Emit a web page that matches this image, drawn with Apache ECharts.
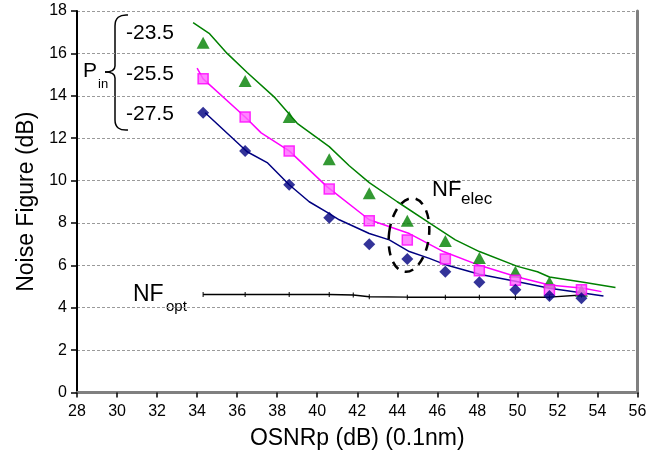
<!DOCTYPE html>
<html>
<head>
<meta charset="utf-8">
<script src="https://cdn.jsdelivr.net/npm/echarts@6/dist/echarts.min.js"></script>
<style>
html,body{margin:0;padding:0;background:#fff;}
#chart{width:669px;height:457px;}
</style>
</head>
<body>
<div id="chart"></div>
<script>
// ---- Data ----
const xTicks = [28, 30, 32, 34, 36, 38, 40, 42, 44, 46, 48, 50, 52, 54, 56];
const yTicks = [0, 2, 4, 6, 8, 10, 12, 14, 16, 18];

// Measured OSNRp positions of markers
const osnrMeas = [34.3, 36.4, 38.6, 40.6, 42.6, 44.5, 46.4, 48.1, 49.9, 51.6, 53.2];
const nfMeasM235 = [16.5, 14.7, 13.0, 11.0, 9.4, 8.1, 7.15, 6.35, 5.7, 5.2, 4.8];
const nfMeasM255 = [14.8, 13.0, 11.4, 9.6, 8.1, 7.2, 6.3, 5.75, 5.3, 4.85, 4.85];
const nfMeasM275 = [13.2, 11.4, 9.8, 8.25, 7.0, 6.3, 5.7, 5.2, 4.85, 4.55, 4.45];

// Simulated curves
const simXM235 = [33.8, 34.6, 35.5, 36.5, 37.9, 39.0, 40.6, 41.6, 42.6, 44.0, 45.6, 46.9, 48.1, 50.0, 51.0, 51.6, 53.3, 54.9];
const simYM235 = [17.45, 16.95, 16.0, 15.1, 13.9, 12.7, 11.6, 10.7, 9.9, 9.0, 8.0, 7.2, 6.65, 5.95, 5.7, 5.45, 5.2, 4.95];
const simXM255 = [34.0, 34.3, 36.4, 37.2, 38.6, 40.5, 42.6, 44.6, 46.3, 48.1, 50.0, 51.6, 53.3, 54.2];
const simYM255 = [15.3, 14.8, 13.0, 12.25, 11.4, 9.7, 8.15, 7.5, 6.65, 6.0, 5.45, 5.07, 4.92, 4.76];
const simXM275 = [34.4, 36.5, 37.5, 38.6, 39.6, 40.5, 41.1, 42.6, 43.6, 44.6, 45.6, 46.5, 48.1, 49.9, 51.6, 53.1, 54.3];
const simYM275 = [13.2, 11.36, 10.85, 9.8, 9.0, 8.5, 8.15, 7.5, 7.2, 6.65, 6.33, 6.0, 5.58, 5.25, 4.92, 4.72, 4.55];

// Optical noise figure
const nfOptX = [34.3, 36.4, 38.6, 40.6, 41.8, 42.6, 44.5, 46.4, 48.1, 49.9, 51.6, 53.2];
const nfOptY = [4.62, 4.62, 4.62, 4.62, 4.6, 4.52, 4.5, 4.5, 4.5, 4.5, 4.5, 4.6];

const pinLabels = ['-23.5', '-25.5', '-27.5'];

// ---- Build chart ----
const zip = (xs, ys) => xs.map((x, i) => [x, ys[i]]);
const FONT = '"Liberation Sans", Arial, sans-serif';
const chart = echarts.init(document.getElementById('chart'), null, {renderer: 'canvas'});

const GREEN = '#008000', MAG = '#ff00ff', NAVY = '#000080';

const option = {
  animation: false,
  backgroundColor: '#ffffff',
  grid: {left: 77, right: 31.5, top: 11, bottom: 64.5, containLabel: false},
  xAxis: [{
    type: 'value', min: xTicks[0], max: xTicks[xTicks.length - 1], interval: 2,
    name: 'OSNRp (dB) (0.1nm)', nameLocation: 'middle', nameGap: 35,
    nameTextStyle: {fontFamily: FONT, fontSize: 23, color: '#000'},
    axisLine: {lineStyle: {color: '#000', width: 2}},
    axisTick: {show: true, length: 5, lineStyle: {color: '#000', width: 1.5}},
    axisLabel: {fontFamily: FONT, fontSize: 16, color: '#000', margin: 11},
    splitLine: {show: false}
  }, {
    type: 'value', position: 'top', min: 28, max: 56,
    axisLine: {show: true, lineStyle: {color: '#808080', width: 3}},
    axisTick: {show: false}, axisLabel: {show: false}, splitLine: {show: false}
  }],
  yAxis: [{
    type: 'value', min: yTicks[0], max: yTicks[yTicks.length - 1], interval: 2,
    name: 'Noise Figure (dB)', nameLocation: 'middle', nameGap: 31,
    nameTextStyle: {fontFamily: FONT, fontSize: 23, color: '#000'},
    axisLine: {show: true, lineStyle: {color: '#000', width: 2}},
    axisTick: {show: true, length: 6, lineStyle: {color: '#000', width: 1.5}},
    axisLabel: {fontFamily: FONT, fontSize: 16, color: '#000', margin: 10},
    splitLine: {show: true, lineStyle: {color: '#9a9a9a', width: 1, type: [3, 2]}}
  }, {
    type: 'value', position: 'right', min: 0, max: 18,
    axisLine: {show: true, lineStyle: {color: '#808080', width: 3}},
    axisTick: {show: false}, axisLabel: {show: false}, splitLine: {show: false}
  }],
  series: [
    {type: 'line', data: zip(nfOptX, nfOptY), showSymbol: true, symbol: 'rect', symbolSize: [1, 5],
     itemStyle: {color: '#000'}, lineStyle: {color: '#000', width: 1.5}, z: 2},
    {type: 'line', data: zip(simXM235, simYM235), showSymbol: false, lineStyle: {color: GREEN, width: 1.5}, z: 3},
    {type: 'line', data: zip(simXM255, simYM255), showSymbol: false, lineStyle: {color: MAG, width: 1.5}, z: 3},
    {type: 'line', data: zip(simXM275, simYM275), showSymbol: false, lineStyle: {color: NAVY, width: 1.5}, z: 3},
    {type: 'scatter', data: zip(osnrMeas, nfMeasM235), symbol: 'triangle', symbolSize: [13, 12],
     itemStyle: {color: GREEN}, z: 4},
    {type: 'scatter', data: zip(osnrMeas, nfMeasM255), symbol: 'rect', symbolSize: 10,
     itemStyle: {color: '#ff66ff', borderColor: MAG, borderWidth: 1.5}, z: 4},
    {type: 'scatter', data: zip(osnrMeas, nfMeasM275), symbol: 'diamond', symbolSize: 12,
     itemStyle: {color: NAVY}, z: 4}
  ],
  graphic: [
    // Pin labels
    {type: 'text', left: 126, top: 23, style: {text: pinLabels[0], font: '21px ' + FONT, fill: '#000'}},
    {type: 'text', left: 126, top: 64, style: {text: pinLabels[1], font: '21px ' + FONT, fill: '#000'}},
    {type: 'text', left: 126, top: 104, style: {text: pinLabels[2], font: '21px ' + FONT, fill: '#000'}},
    {type: 'text', left: 83, top: 61, style: {text: 'P', font: '21px ' + FONT, fill: '#000'}},
    {type: 'text', left: 98, top: 78, style: {text: 'in', font: '13px ' + FONT, fill: '#000'}},
    // Curly brace
    {type: 'bezierCurve', shape: {x1: 128, y1: 15, cpx1: 115, cpy1: 14, x2: 115, y2: 26}, style: {stroke: '#000', lineWidth: 1.5, fill: null}},
    {type: 'line', shape: {x1: 115, y1: 26, x2: 115, y2: 66}, style: {stroke: '#000', lineWidth: 1.5}},
    {type: 'bezierCurve', shape: {x1: 115, y1: 66, cpx1: 115, cpy1: 72, x2: 105, y2: 72}, style: {stroke: '#000', lineWidth: 1.5, fill: null}},
    {type: 'bezierCurve', shape: {x1: 105, y1: 72, cpx1: 115, cpy1: 72, x2: 115, y2: 78}, style: {stroke: '#000', lineWidth: 1.5, fill: null}},
    {type: 'line', shape: {x1: 115, y1: 78, x2: 115, y2: 120}, style: {stroke: '#000', lineWidth: 1.5}},
    {type: 'bezierCurve', shape: {x1: 115, y1: 120, cpx1: 115, cpy1: 131, x2: 128, y2: 130}, style: {stroke: '#000', lineWidth: 1.5, fill: null}},
    // NF_elec
    {type: 'text', left: 432, top: 179, style: {text: 'NF', font: '22px ' + FONT, fill: '#000'}},
    {type: 'text', left: 461, top: 191, style: {text: 'elec', font: '17px ' + FONT, fill: '#000'}},
    {type: 'ellipse', shape: {cx: 409, cy: 235, rx: 20, ry: 37}, rotation: -0.12, originX: 409, originY: 235,
     style: {stroke: '#000', lineWidth: 2.5, fill: null, lineDash: [9, 7]}, z: 10},
    // NF_opt
    {type: 'text', left: 133, top: 283, style: {text: 'NF', font: '23px ' + FONT, fill: '#000'}},
    {type: 'text', left: 166, top: 299, style: {text: 'opt', font: '15px ' + FONT, fill: '#000'}}
  ]
};
chart.setOption(option);
</script>
</body>
</html>
